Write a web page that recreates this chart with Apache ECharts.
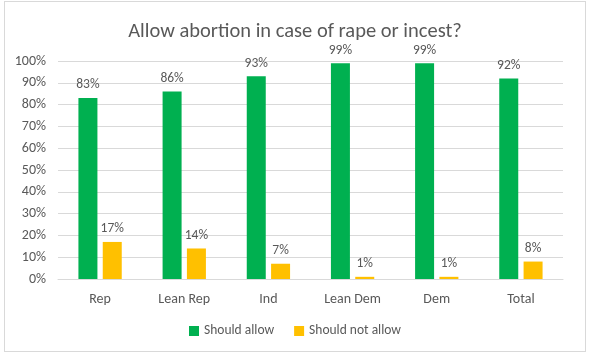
<!DOCTYPE html>
<html><head><meta charset="utf-8">
<script src="https://cdn.jsdelivr.net/npm/echarts@6/dist/echarts.min.js"></script>
<style>
html,body{margin:0;padding:0;background:#fff;}
#frame{position:absolute;left:4px;top:1px;width:582px;height:351px;border:1px solid #d9d9d9;box-sizing:border-box;}
#c{position:absolute;left:0;top:0;width:590px;height:355px;}
</style></head>
<body>
<div id="frame"></div>
<div id="c"></div>
<script>
const categories = ['Rep', 'Lean Rep', 'Ind', 'Lean Dem', 'Dem', 'Total'];
const shouldAllow = [83, 86, 93, 99, 99, 92];
const shouldNotAllow = [17, 14, 7, 1, 1, 8];
const yTicks = [0, 10, 20, 30, 40, 50, 60, 70, 80, 90, 100];

const chart = echarts.init(document.getElementById('c'), null, {renderer: 'canvas'});
const font = 'Calibri, Carlito, "Open Sans", "Liberation Sans", sans-serif';
const labelStyle = {show: true, position: 'top', distance: 6, formatter: p => p.value + '%', color: '#595959', fontSize: 13.5, fontFamily: font};
chart.setOption({
  animation: false,
  title: {text: 'Allow abortion in case of rape or incest?', left: 'center', top: 16,
    textStyle: {fontSize: 20.5, fontWeight: 'normal', color: '#595959', fontFamily: font}},
  grid: {left: 58, right: 27, top: 61, bottom: 76, containLabel: false},
  legend: {bottom: 12, left: 'center', itemWidth: 10, itemHeight: 10, itemGap: 20, icon: 'rect',
    textStyle: {fontSize: 13.5, color: '#595959', fontFamily: font}},
  xAxis: {type: 'category', data: categories,
    axisLine: {lineStyle: {color: '#d9d9d9'}}, axisTick: {show: false},
    axisLabel: {color: '#595959', fontSize: 14, fontFamily: font, margin: 13}},
  yAxis: {type: 'value', min: 0, max: 100, interval: 10,
    axisLabel: {formatter: v => yTicks.includes(v) ? v + '%' : '', color: '#595959', fontSize: 14, fontFamily: font, margin: 12},
    splitLine: {lineStyle: {color: '#d9d9d9'}}, axisLine: {show: false}, axisTick: {show: false}},
  series: [
    {name: 'Should allow', type: 'bar', data: shouldAllow, barWidth: 19, barGap: '28%',
      itemStyle: {color: '#00B050'}, label: labelStyle},
    {name: 'Should not allow', type: 'bar', data: shouldNotAllow, barWidth: 19,
      itemStyle: {color: '#FFC000'}, label: labelStyle}
  ]
});
</script>
</body></html>
